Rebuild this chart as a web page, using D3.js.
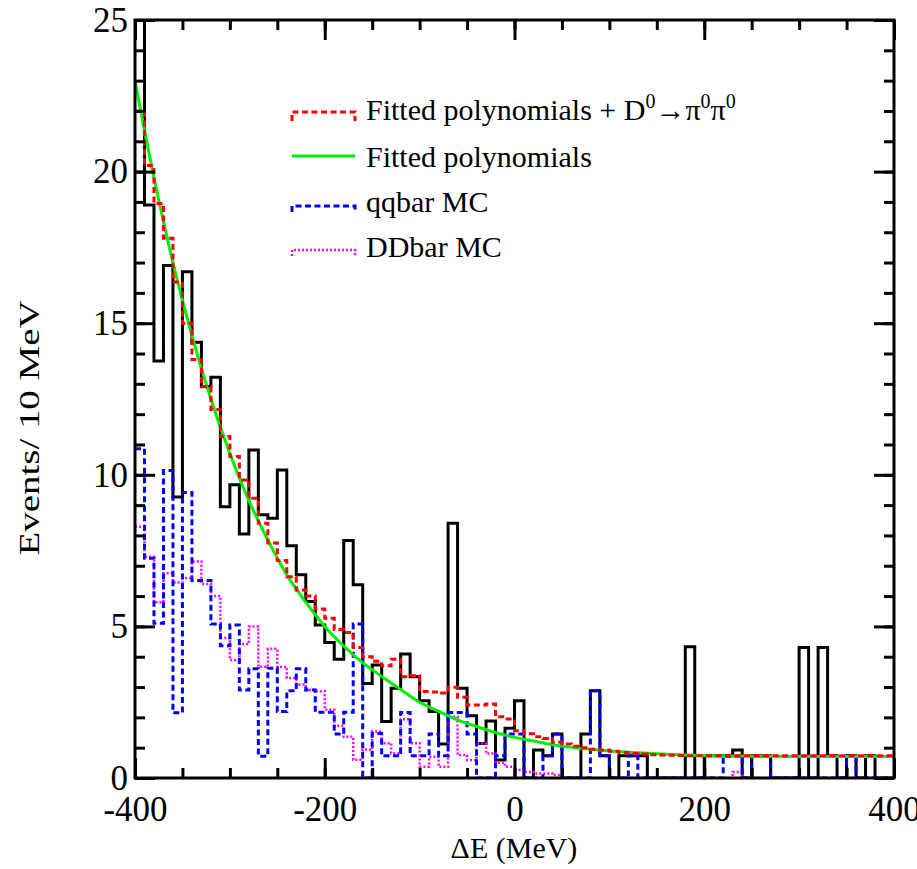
<!DOCTYPE html>
<html>
<head>
<meta charset="utf-8">
<script src="https://cdn.jsdelivr.net/npm/d3@7/dist/d3.min.js"></script>
<style>
  body { margin: 0; background: #fff; }
  text { font-family: "Liberation Serif", "Times New Roman", serif; fill: #000; }
</style>
</head>
<body>
<div id="chart"></div>
<script>
// bins: 80 bins of 10 MeV from -400 to 400
var binLow = d3.range(-400, 400, 10);

// data (black histogram)
var dataCounts = [25.6, 18.9, 13.75, 16.9, 9.27, 16.7, 14.37, 12.91, 13.22, 8.95,
  9.67, 8.05, 10.82, 8.68, 8.57, 10.16, 7.66, 6.70, 5.82, 5.05,
  4.47, 3.92, 7.83, 6.37, 3.12, 3.73, 1.86, 2.96, 4.09, 3.34,
  2.55, 2.19, 1.12, 8.40, 2.96, 2.05, 1.14, 1.88, 0.59, 1.64,
  2.55, 0, 0.92, 0.73, 1.45, 0, 0, 1.45, 2.88, 0.73,
  0, 0.73, 0.73, 0.73, 0, 0, 0, 0, 4.33, 0,
  0.73, 0.73, 0.73, 0.92, 0, 0.73, 0.73, 0, 0, 0,
  4.30, 0, 4.30, 0.73, 0, 0.73, 0, 0.73, 0, 0];

// qqbar MC (blue dashed)
var qqbarMC = [10.86, 7.25, 5.1, 10.14, 2.15, 9.42, 6.51, 6.51, 5.08, 4.36,
  5.05, 2.9, 3.6, 0.72, 3.62, 2.19, 2.88, 3.6, 2.9, 2.17,
  2.17, 1.45, 2.17, 5.08, 0, 1.47, 0.73, 0.73, 2.16, 0.73,
  0.73, 1.45, 0.73, 2.16, 2.16, 1.45, 0, 0, 0.73, 1.45,
  1.45, 0, 0, 0.73, 1.45, 0, 0, 0, 2.88, 0.73,
  0, 0, 0.73, 0, 0, 0, 0, 0, 0, 0,
  0, 0, 0.72, 0.72, 0, 0.72, 0.72, 0, 0, 0,
  0, 0, 0, 0, 0, 0.72, 0, 0, 0, 0];

// DDbar MC (magenta dotted)
var ddbarMC = [8.29, 7.3, 5.8, 6.75, 6.45, 6.6, 7.14, 6.4, 6.0, 4.62,
  3.89, 4.42, 5.0, 3.67, 4.26, 3.66, 3.3, 3.08, 2.9, 2.86,
  2.25, 1.72, 1.36, 0.6, 0.94, 1.53, 1.15, 0.81, 1.94, 1.15,
  0.37, 0.7, 0.37, 2.02, 0.76, 0.59, 1.14, 0.81, 0.5, 0.37,
  0.26, 0.2, 0.15, 0.15, 0.1, 0, 0, 0, 0, 0,
  0, 0, 0, 0, 0, 0, 0, 0, 0, 0,
  0, 0, 0, 0.2, 0, 0, 0, 0, 0, 0,
  0, 0, 0, 0, 0, 0, 0, 0, 0, 0];

// fitted polynomials + D0 -> pi0 pi0 (red dashed, per bin)
var fitTotal = [22.0, 20.2, 18.95, 17.8, 16.36, 15.0, 13.8, 12.9, 12.15, 11.26,
  10.6, 9.83, 9.23, 8.4, 7.75, 7.17, 6.64, 6.2, 6.0, 5.57,
  5.27, 4.9, 4.8, 4.3, 4.0, 3.85, 3.7, 3.92, 3.34, 3.37,
  2.85, 2.84, 2.8, 2.99, 2.66, 2.41, 2.41, 2.44, 2.02, 1.95,
  1.56, 1.46, 1.36, 1.3, 1.18, 1.12, 1.05, 1.0, 0.95, 0.92,
  0.88, 0.84, 0.81, 0.79, 0.77, 0.76, 0.75, 0.74, 0.73, 0.73,
  0.73, 0.73, 0.73, 0.73, 0.73, 0.73, 0.73, 0.73, 0.73, 0.73,
  0.73, 0.73, 0.73, 0.73, 0.73, 0.73, 0.73, 0.73, 0.73, 0.73];

// fitted polynomials (green curve)
var fitPolyX = [-400, -380, -360, -340, -320, -300, -280, -260, -240, -220,
  -200, -180, -160, -140, -120, -100, -80, -60, -40, -20,
  0, 20, 40, 60, 80, 100, 130, 160, 200, 250, 300, 400];
var fitPolyY = [23.0, 19.8, 17.0, 14.6, 12.5, 10.7, 9.15, 7.85, 6.7, 5.8,
  5.0, 4.35, 3.8, 3.35, 2.92, 2.5, 2.2, 1.92, 1.7, 1.5,
  1.34, 1.22, 1.1, 1.01, 0.95, 0.89, 0.83, 0.78, 0.74, 0.72, 0.71, 0.71];

var xMajor = [-400, -200, 0, 200, 400];
var xMinor = d3.range(-400, 401, 50);
var yMajor = [0, 5, 10, 15, 20, 25];
var yMinor = d3.range(0, 26, 1);

var legendNames = ["Fitted polynomials", "qqbar MC", "DDbar MC"];

// 常数
var MARGIN = { top: 20, right: 23, bottom: 91, left: 135 };
var WIDTH = 917 - MARGIN.left - MARGIN.right;
var HEIGHT = 869 - MARGIN.top - MARGIN.bottom;

var svgRoot = d3.select("#chart")
  .append("svg")
  .attr("width", 917)
  .attr("height", 869);

var svg = svgRoot.append("g")
  .attr("transform", "translate(" + MARGIN.left + "," + MARGIN.top + ")");

var x = d3.scaleLinear().domain([-400, 400]).range([0, WIDTH]);
var y = d3.scaleLinear().domain([0, 25]).range([HEIGHT, 0]);

svgRoot.append("defs").append("clipPath").attr("id", "plotclip")
  .append("rect").attr("width", WIDTH).attr("height", HEIGHT);

var plot = svg.append("g").attr("clip-path", "url(#plotclip)");

// 直方图
function histPoints(values) {
  var pts = values.map(function (v, i) { return [binLow[i], v]; });
  pts.push([400, values[values.length - 1]]);
  return pts;
}
var stepLine = d3.line()
  .x(function (d) { return x(d[0]); })
  .y(function (d) { return y(d[1]); })
  .curve(d3.curveStepAfter);

plot.append("path")
  .attr("d", stepLine(histPoints(dataCounts)))
  .attr("fill", "none").attr("stroke", "#000").attr("stroke-width", 3);

plot.append("path")
  .attr("d", stepLine(histPoints(ddbarMC)))
  .attr("fill", "none").attr("stroke", "#ff00ff").attr("stroke-width", 2.5)
  .attr("stroke-dasharray", "2,2");

plot.append("path")
  .attr("d", stepLine(histPoints(qqbarMC)))
  .attr("fill", "none").attr("stroke", "#0000ff").attr("stroke-width", 3)
  .attr("stroke-dasharray", "6,3.5");

var smooth = d3.line()
  .x(function (d) { return x(d[0]); })
  .y(function (d) { return y(d[1]); })
  .curve(d3.curveMonotoneX);

plot.append("path")
  .attr("d", smooth(fitPolyX.map(function (v, i) { return [v, fitPolyY[i]]; })))
  .attr("fill", "none").attr("stroke", "#00ee00").attr("stroke-width", 3);

plot.append("path")
  .attr("d", stepLine(histPoints(fitTotal)))
  .attr("fill", "none").attr("stroke", "#ff0000").attr("stroke-width", 3)
  .attr("stroke-dasharray", "6,3.5");

// 坐标轴
function styleAxis(g) {
  g.select(".domain").remove();
  g.selectAll(".tick line").attr("stroke", "#000").attr("stroke-width", 3);
  g.selectAll(".tick text").style("font-size", "35px")
    .style("font-family", "'Liberation Serif', 'Times New Roman', serif");
}
// 用普通连字符
var plainFmt = function (d) { return String(d); };

svg.append("g").attr("transform", "translate(0," + HEIGHT + ")")
  .call(d3.axisBottom(x).tickValues(xMinor).tickSize(-10).tickFormat(""))
  .call(styleAxis);
svg.append("g").attr("transform", "translate(0," + HEIGHT + ")")
  .call(d3.axisBottom(x).tickValues(xMajor).tickSize(-20).tickPadding(18).tickFormat(plainFmt))
  .call(styleAxis);
svg.append("g")
  .call(d3.axisTop(x).tickValues(xMinor).tickSize(-10).tickFormat(""))
  .call(styleAxis);
svg.append("g")
  .call(d3.axisTop(x).tickValues(xMajor).tickSize(-20).tickFormat(""))
  .call(styleAxis);

svg.append("g")
  .call(d3.axisLeft(y).tickValues(yMinor).tickSize(-10).tickFormat(""))
  .call(styleAxis);
svg.append("g")
  .call(d3.axisLeft(y).tickValues(yMajor).tickSize(-20).tickPadding(7).tickFormat(plainFmt))
  .call(styleAxis);
svg.append("g").attr("transform", "translate(" + WIDTH + ",0)")
  .call(d3.axisRight(y).tickValues(yMinor).tickSize(-10).tickFormat(""))
  .call(styleAxis);
svg.append("g").attr("transform", "translate(" + WIDTH + ",0)")
  .call(d3.axisRight(y).tickValues(yMajor).tickSize(-20).tickFormat(""))
  .call(styleAxis);

// 边框
svg.append("rect")
  .attr("width", WIDTH).attr("height", HEIGHT)
  .attr("fill", "none").attr("stroke", "#000").attr("stroke-width", 3);

// 轴标题
svgRoot.append("text")
  .attr("x", 514).attr("y", 858)
  .attr("text-anchor", "middle")
  .style("font-size", "30px")
  .text("\u0394E (MeV)");

svgRoot.append("text")
  .attr("transform", "translate(39,428) rotate(-90)")
  .attr("text-anchor", "middle")
  .attr("textLength", 255)
  .attr("lengthAdjust", "spacingAndGlyphs")
  .style("font-size", "30px")
  .text("Events/ 10 MeV");

// 图例
var legend = svgRoot.append("g");
var lx0 = 292, lx1 = 355, tx = 366;

legend.append("path")
  .attr("d", "M" + lx0 + ",121V112H" + lx1 + "V121")
  .attr("fill", "none").attr("stroke", "#ff0000").attr("stroke-width", 3)
  .attr("stroke-dasharray", "6,3.5");
var t1 = legend.append("text").attr("x", tx).attr("y", 120).style("font-size", "30px");
t1.append("tspan").text("Fitted polynomials + D");
t1.append("tspan").attr("dy", -12).style("font-size", "20px").text("0");
t1.append("tspan").attr("dy", 12).text("\u2192\u03c0");
t1.append("tspan").attr("dy", -12).style("font-size", "20px").text("0");
t1.append("tspan").attr("dy", 12).text("\u03c0");
t1.append("tspan").attr("dy", -12).style("font-size", "20px").text("0");

legend.append("line")
  .attr("x1", lx0).attr("x2", lx1).attr("y1", 156).attr("y2", 156)
  .attr("stroke", "#00ee00").attr("stroke-width", 3);
legend.append("text").attr("x", tx).attr("y", 167).style("font-size", "30px").text(legendNames[0]);

legend.append("path")
  .attr("d", "M" + lx0 + ",212V206H" + lx1 + "V212")
  .attr("fill", "none").attr("stroke", "#0000ff").attr("stroke-width", 3)
  .attr("stroke-dasharray", "6,3.5");
legend.append("text").attr("x", tx).attr("y", 212).style("font-size", "30px").text(legendNames[1]);

legend.append("path")
  .attr("d", "M" + lx0 + ",256V250H" + lx1 + "V256")
  .attr("fill", "none").attr("stroke", "#ff00ff").attr("stroke-width", 2.5)
  .attr("stroke-dasharray", "2,2");
legend.append("text").attr("x", tx).attr("y", 257).style("font-size", "30px").text(legendNames[2]);
</script>
</body>
</html>
